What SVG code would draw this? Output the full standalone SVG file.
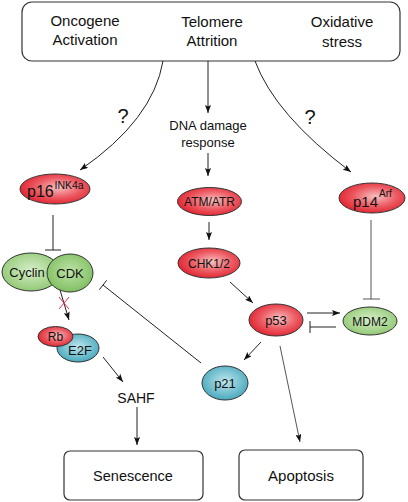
<svg xmlns="http://www.w3.org/2000/svg" width="408" height="502" viewBox="0 0 408 502">
<defs>
<radialGradient id="gRed" cx="55%" cy="45%" r="60%">
<stop offset="0" stop-color="#f7c0c0"/>
<stop offset="0.55" stop-color="#ec5a62"/>
<stop offset="1" stop-color="#e01e2c"/>
</radialGradient>
<radialGradient id="gGreen" cx="50%" cy="45%" r="60%">
<stop offset="0" stop-color="#d8eec9"/>
<stop offset="1" stop-color="#8cc66f"/>
</radialGradient>
<radialGradient id="gGreen2" cx="50%" cy="45%" r="60%">
<stop offset="0" stop-color="#bfe2a9"/>
<stop offset="1" stop-color="#7bbd5b"/>
</radialGradient>
<radialGradient id="gTeal" cx="50%" cy="45%" r="60%">
<stop offset="0" stop-color="#bfe6ed"/>
<stop offset="1" stop-color="#3ea4b9"/>
</radialGradient>
<marker id="arr" viewBox="0 0 8 6" refX="8" refY="3" markerWidth="8" markerHeight="6" markerUnits="userSpaceOnUse" orient="auto">
<path d="M0,0 L8,3 L0,6 L1.5,3 z" fill="#111"/>
</marker>
</defs>
<style>
text{font-family:"Liberation Sans",Arial,sans-serif;fill:#111;text-anchor:middle}
.box{fill:#fff;stroke:#333;stroke-width:1.2}
.node{stroke:#333;stroke-width:1}
.red{fill:url(#gRed)}
.green{fill:url(#gGreen)}
.green2{fill:url(#gGreen2)}
.teal{fill:url(#gTeal)}
.c{fill:none;stroke:#222;stroke-width:1}
.g{fill:none;stroke:#555;stroke-width:1}
.a{marker-end:url(#arr)}
.t15{font-size:15px}
.t13{font-size:13px}
.t12{font-size:12px}
.q{font-size:20px}
</style>

<g id="stimuli">
<rect class="box" x="22" y="2" width="378" height="59" rx="10"/>
<text class="t15" x="85" y="26">Oncogene</text>
<text class="t15" x="85" y="45">Activation</text>
<text class="t15" x="212" y="27">Telomere</text>
<text class="t15" x="212" y="46">Attrition</text>
<text class="t15" x="342" y="27">Oxidative</text>
<text class="t15" x="342" y="47">stress</text>
</g>

<g id="connectors">
<path class="c a" d="M163,61 Q153,120 80,170"/>
<path class="c a" d="M255,61 Q275,115 351,172"/>
<line class="c a" x1="208" y1="61" x2="208" y2="113"/>
<line class="c a" x1="208" y1="153" x2="208" y2="176"/>
<line class="c a" x1="209" y1="222" x2="209" y2="240"/>
<line class="c a" x1="230" y1="282" x2="253" y2="303"/>
<line class="c a" x1="307" y1="313" x2="340" y2="313"/>
<line class="c" x1="336" y1="327" x2="310" y2="327"/>
<line class="c" x1="310" y1="321" x2="310" y2="333"/>
<line class="g" x1="371" y1="220" x2="371" y2="299"/>
<line class="g" x1="363" y1="299" x2="380" y2="299"/>
<line class="c" x1="53" y1="215" x2="53" y2="250"/>
<line class="c" x1="45" y1="250" x2="61" y2="250"/>
<line class="c a" x1="261" y1="342" x2="244" y2="360"/>
<line class="c" x1="201" y1="363" x2="103" y2="285"/>
<line class="c" x1="99.3" y1="289.7" x2="106.7" y2="280.3"/>
<line class="g a" x1="280" y1="346" x2="300" y2="442"/>
<line class="c a" x1="60" y1="290" x2="69" y2="320"/>
<line x1="59" y1="297" x2="69" y2="309" stroke="#e8334a" stroke-width="1"/>
<line x1="69" y1="297" x2="59" y2="309" stroke="#e8334a" stroke-width="1"/>
<line class="c a" x1="103" y1="357" x2="123" y2="382"/>
<line class="c a" x1="137" y1="407" x2="137" y2="445"/>
<text class="q" x="123" y="123">?</text>
<text class="q" x="310" y="124">?</text>
</g>

<g id="ddr">
<text class="t13" x="208" y="130">DNA damage</text>
<text class="t13" x="208" y="147">response</text>
</g>

<g id="p16">
<ellipse class="node red" cx="55" cy="189" rx="35" ry="15"/>
<text x="27" y="197" style="font-size:16px;text-anchor:start">p16</text>
<text x="54.5" y="189" style="font-size:10.5px;text-anchor:start">INK4a</text>
</g>

<g id="atm">
<ellipse class="node red" cx="209.5" cy="201.5" rx="32" ry="14"/>
<text class="t12" x="209.5" y="206">ATM/ATR</text>
</g>

<g id="chk">
<ellipse class="node red" cx="209" cy="263" rx="31" ry="15"/>
<text class="t12" x="209" y="267.5">CHK1/2</text>
</g>

<g id="p14">
<ellipse class="node red" cx="372" cy="198" rx="33" ry="15"/>
<text x="353" y="207" style="font-size:15px;text-anchor:start">p14</text>
<text x="379" y="197" style="font-size:10px;text-anchor:start">Arf</text>
</g>

<g id="cyclin">
<ellipse class="node green" cx="31" cy="272" rx="29" ry="19"/>
<text class="t13" x="27" y="277">Cyclin</text>
</g>

<g id="cdk">
<ellipse class="node green2" cx="70" cy="273" rx="23" ry="19"/>
<text class="t13" x="70" y="278">CDK</text>
</g>

<g id="e2f">
<ellipse class="node teal" cx="78" cy="348" rx="21" ry="14"/>
<text class="t13" x="80" y="355">E2F</text>
</g>

<g id="rb">
<ellipse class="node red" cx="55.5" cy="336.5" rx="17.5" ry="10"/>
<text class="t12" x="55.5" y="341">Rb</text>
</g>

<g id="p53">
<ellipse class="node red" cx="276" cy="320" rx="27" ry="16"/>
<text class="t13" x="276" y="325">p53</text>
</g>

<g id="mdm2">
<ellipse class="node green" cx="370" cy="321" rx="27" ry="14"/>
<text class="t12" x="370" y="325.5">MDM2</text>
</g>

<g id="p21">
<ellipse class="node teal" cx="225" cy="383" rx="23" ry="17"/>
<text class="t13" x="225" y="387.5">p21</text>
</g>

<g id="sahf">
<text x="136" y="403" style="font-size:14px">SAHF</text>
</g>

<g id="senescence">
<rect class="box" x="64" y="451" width="139" height="49" rx="6"/>
<text x="133" y="481" style="font-size:14.5px">Senescence</text>
</g>

<g id="apoptosis">
<rect class="box" x="239" y="450" width="124" height="50" rx="6"/>
<text class="t15" x="301" y="481">Apoptosis</text>
</g>
</svg>
